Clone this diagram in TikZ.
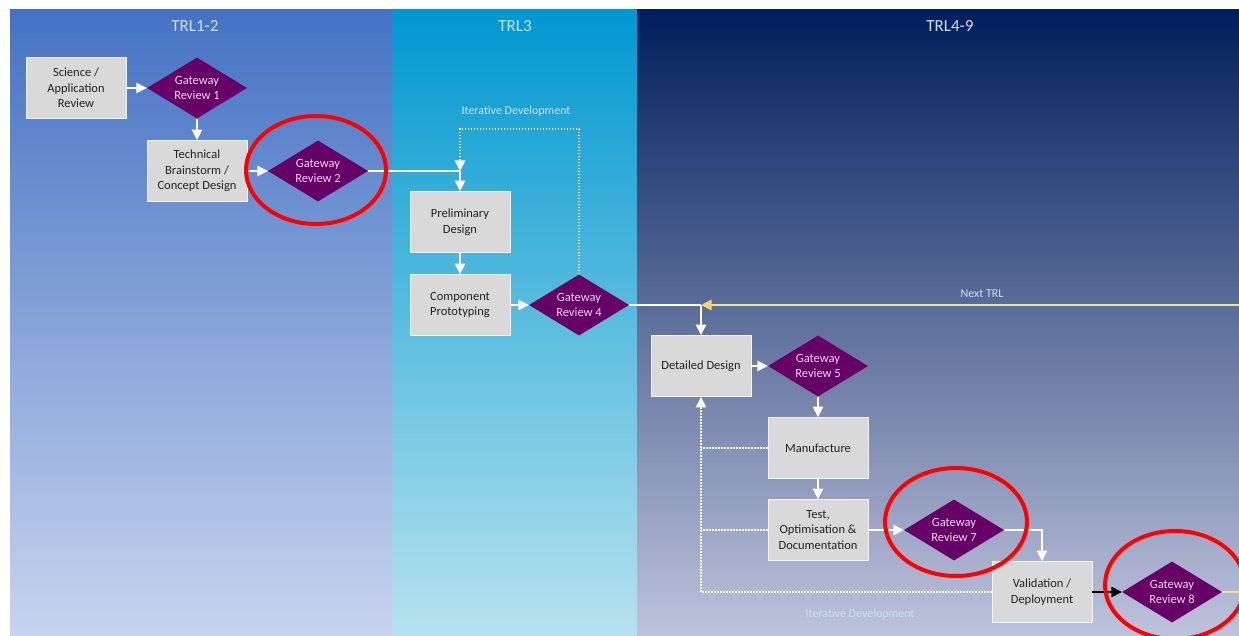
\documentclass[tikz,border=0pt]{standalone}
\usepackage{fontspec}
\setmainfont{Carlito}
\usetikzlibrary{shapes.geometric,arrows.meta}
\definecolor{onetop}{RGB}{68,114,196}
\definecolor{onebottom}{RGB}{200,212,238}
\definecolor{threetop}{RGB}{0,152,208}
\definecolor{threebottom}{RGB}{183,226,238}
\definecolor{ninetop}{RGB}{0,30,92}
\definecolor{ninemiddle}{RGB}{68,88,140}
\definecolor{ninebottom}{RGB}{190,195,220}
\definecolor{boxgrey}{RGB}{217,217,217}
\definecolor{boxtext}{RGB}{35,35,35}
\definecolor{gatepurple}{RGB}{102,0,102}
\definecolor{gatetext}{RGB}{238,215,240}
\definecolor{headtext}{RGB}{205,224,245}
\definecolor{nextyellow}{RGB}{238,226,160}
\definecolor{nexttip}{RGB}{245,212,110}
\tikzset{
  box/.style={rectangle, fill=boxgrey, draw=white!70!boxgrey, line width=0.8pt,
    minimum width=100pt, minimum height=61pt, inner sep=0pt, align=center, text=boxtext},
  gateway/.style={diamond, aspect=1.65, fill=gatepurple, minimum width=100pt,
    minimum height=61pt, inner sep=0pt, align=center, text=gatetext},
  header/.style={text=headtext, font=\fontsize{17}{20}\selectfont},
  note/.style={text=headtext, font=\fontsize{12}{14}\selectfont},
  plain/.style={draw=white, line width=1.4pt},
  flow/.style={plain, -{Triangle[length=10.5pt,width=10.5pt]}},
  loopline/.style={draw=white, line width=1.4pt, dash pattern=on 1.5pt off 1.5pt},
  loopflow/.style={loopline, -{Triangle[length=10.5pt,width=10.5pt]}},
  nextline/.style={draw=nextyellow, line width=1.4pt},
  nextflow/.style={nextline, -{Triangle[length=10.5pt,width=10.5pt,fill=nexttip,color=nexttip]}},
  blackflow/.style={draw=black, line width=1.4pt, -{Triangle[length=10.5pt,width=10.5pt]}},
  redring/.style={draw=red, line width=4pt}
}
\begin{document}
\begin{tikzpicture}[x=1pt, y=-1pt, font=\fontsize{12.5}{15.5}\selectfont]
\useasboundingbox (0,0) rectangle (1239,636);
\fill[white] (0,0) rectangle (1239,636);
\shade[top color=onetop, bottom color=onebottom] (10,10) rectangle (392,636);
\shade[top color=threetop, bottom color=threebottom] (392,10) rectangle (637,636);
\shade[top color=ninetop, middle color=ninemiddle, bottom color=ninebottom] (637,10) rectangle (1239,636);

\def\stepbox{node [box] }
\def\gatewaynode{node [gateway] }

\node [header] (h12) at (195,26) {TRL1-2};
\node [header] (h3) at (515,26) {TRL3};
\node [header] (h49) at (950,26) {TRL4-9};

\draw (76,88) \stepbox (sci) {Science /\\Application\\Review};
\draw (197,88) \gatewaynode (gr1) {Gateway\\Review 1};
\draw (197,171) \stepbox (tech) {Technical\\Brainstorm /\\Concept Design};
\draw (318,171) \gatewaynode (gr2) {Gateway\\Review 2};
\draw (460,222) \stepbox (pre) {Preliminary\\Design};
\draw (460,305) \stepbox (comp) {Component\\Prototyping};
\draw (579,305) \gatewaynode (gr4) {Gateway\\Review 4};
\draw (701,366) \stepbox (dd) {Detailed Design};
\draw (818,366) \gatewaynode (gr5) {Gateway\\Review 5};
\draw (818,448) \stepbox (man) {Manufacture};
\draw (818,530) \stepbox (test) {Test,\\Optimisation \&\\Documentation};
\draw (954,530) \gatewaynode (gr7) {Gateway\\Review 7};
\draw (1042,592) \stepbox (val) {Validation /\\Deployment};
\draw (1172,592) \gatewaynode (gr8) {Gateway\\Review 8};

\node [note] (iter1) at (516,111) {Iterative Development};
\node [note] (next) at (982,294) {Next TRL};
\node [note] (iter2) at (860,614) {Iterative Development};

\coordinate (join) at (pre.north |- gr2.east);
\coordinate (itop) at (460,129);
\coordinate (nxt) at (dd.north |- gr4.east);
\coordinate (nxtend) at (1239,305);
\coordinate (out8) at (1239,592);

\draw [flow] (sci) -- (gr1);
\draw [flow] (gr1) -- (tech);
\draw [flow] (tech) -- (gr2);
\draw [plain] (gr2.east) -- (join);
\draw [flow] (join) -- (pre);
\draw [flow] (pre) -- (comp);
\draw [flow] (comp) -- (gr4);
\draw [loopflow] (gr4.north) |- (itop) -- (join);
\draw [plain] (gr4.east) -- (nxt);
\draw [nextflow] (nxtend) -- (nxt);
\draw [flow] (nxt) -- (dd);
\draw [flow] (dd) -- (gr5);
\draw [flow] (gr5) -- (man);
\draw [flow] (man) -- (test);
\draw [flow] (test) -- (gr7);
\draw [flow] (gr7.east) -| (val.north);
\draw [blackflow] (val) -- (gr8);
\draw [nextline] (gr8.east) -- (out8);
\draw [loopflow] (val.west) -| (dd.south);
\draw [loopline] (man.west) -- (man.west -| dd.south);
\draw [loopline] (test.west) -- (test.west -| dd.south);

\draw [redring] (316,170) ellipse [x radius=70pt, y radius=54pt];
\draw [redring] (956,522) ellipse [x radius=71pt, y radius=54pt];
\draw [redring] (1175,585) ellipse [x radius=70pt, y radius=54pt];
\end{tikzpicture}
\end{document}
